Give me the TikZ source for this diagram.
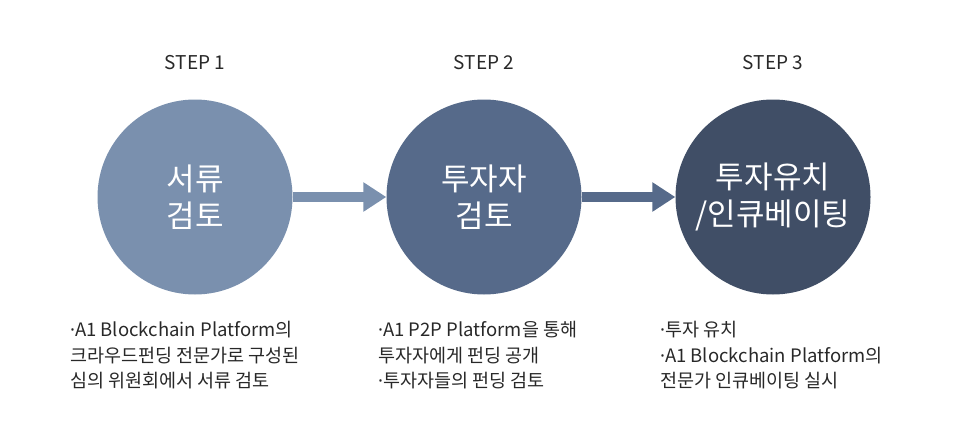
\documentclass[tikz,border=0pt]{standalone}
\usepackage{fontspec}
\setmainfont{Noto Sans CJK KR}
\newfontfamily\dotfont{Noto Sans}
\usetikzlibrary{arrows.meta,positioning}
\definecolor{stepone}{RGB}{122,144,174}
\definecolor{steptwo}{RGB}{86,106,138}
\definecolor{stepthree}{RGB}{64,78,102}
\definecolor{txtgray}{RGB}{40,40,40}
\newcommand{\middot}{{\dotfont ·}}

\begin{document}
\begin{tikzpicture}[x=1pt, y=-1pt,
    stepcircle/.style={circle, minimum size=195pt, inner sep=0pt, text=white,
        align=center, font=\fontsize{31}{37}\selectfont},
    steplabel/.style={inner sep=0pt, text=txtgray, font=\fontsize{19}{22}\selectfont},
    desc/.style={anchor=north west, inner sep=0pt, align=left, text=txtgray,
        font=\fontsize{18.5}{25.5}\selectfont},
    flowarrow/.style={line width=10pt, -{Triangle[length=23pt, width=28pt]}}]
\useasboundingbox (0,0) rectangle (976,431);

        % the three steps
        \node[stepcircle, fill=stepone] (circ1) at (195,197) {서류\\검토};
        \node[stepcircle, fill=steptwo] (circ2) at (484,197) {투자자\\검토};
        \node[stepcircle, fill=stepthree] (circ3) at (773,197) {투자유치\\/인큐베이팅};

        \node[steplabel, above=29pt of circ1] (lab1) {STEP 1};
        \node[steplabel, above=29pt of circ2] (lab2) {STEP 2};
        \node[steplabel, above=29pt of circ3] (lab3) {STEP 3};

        % arrows between steps
        \draw[flowarrow, stepone] (circ1) -- (circ2);
        \draw[flowarrow, steptwo] (circ2) -- (circ3);

        % descriptions
        \node[desc] (desc1) at (70,321) {\middot A1 Blockchain Platform의\\크라우드펀딩 전문가로 구성된\\심의 위원회에서 서류 검토};
        \node[desc] (desc2) at (378,321) {\middot A1 P2P Platform을 통해\\투자자에게 펀딩 공개\\\middot 투자자들의 펀딩 검토};
        \node[desc] (desc3) at (660,321) {\middot 투자 유치\\\middot A1 Blockchain Platform의\\전문가 인큐베이팅 실시};
\end{tikzpicture}
\end{document}
